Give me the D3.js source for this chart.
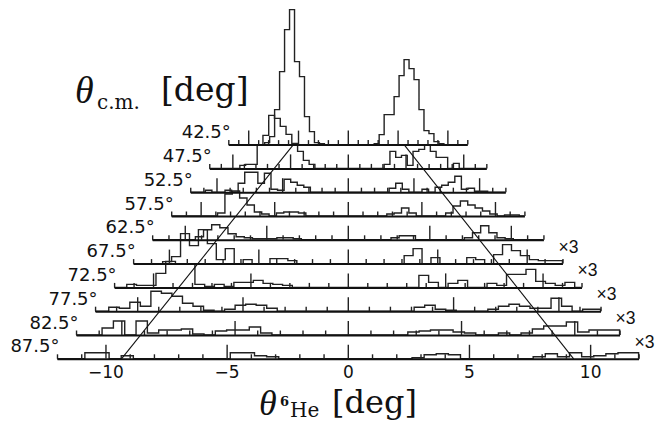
<!DOCTYPE html>
<html>
<head>
<meta charset="utf-8">
<script src="https://cdn.jsdelivr.net/npm/d3@7"></script>
<style>
  body { margin: 0; background: #fff; }
  svg { display: block; }
</style>
</head>
<body>
<svg id="viz" width="658" height="426"></svg>
<script>
// ----- data -----
// c.m. angle of each strip (top to bottom)
const angles = [42.5, 47.5, 52.5, 57.5, 62.5, 67.5, 72.5, 77.5, 82.5, 87.5];
// strips drawn with counts multiplied by 3
const scaledBy3 = [67.5, 72.5, 77.5, 82.5, 87.5];
// histogram bins: 0.5 deg wide, centres from -12.1 to 11.9
const binWidth = 0.5;
const binCenters = d3.range(49).map(j => -12.1 + binWidth * j);

// counts per bin (one array per strip)
const counts42 = [0,0,0,0,0,0,0,0, 2,8,35,73,115,135,83,68,28,13,2,1, 0,0,0,0,0,0,0,0,0,0, 1,10,30,30,48,69,85,76,65,35,14,11,3,1, 0,0,0,0,0];
const counts47 = [0,0,0,0,0,0, 3,4,4,23,33,53,50,42,34,25,17,8,4, 0,0,0,0,0,0,0,0,0,0,0,0, 4,17,11,13,3,17,19,23,17,11,11,0,5, 0,0,0,0,0];
const counts52 = [0,0,0, 2,0,0,2,0,9,20,20,9,19,3,2,13,10,7,5, 0,0,0,0,0,0,0,0,0,0,0,0, 4,9,3,0,0,3,0,5,7,10,16,3,4,1,1, 0,0,0];
const counts57 = [0,0,0,0,0,0,0, 3,22,25,18,11,4,2,0,3,4,4,3, 0,0,0,0,0,0,0,0,0,0,0, 2,3,8,3,0,0,0,0,3,10,15,11,8,5,2,0,1,1,0];
const counts62 = [0,0,0,0,0,0, 3,10,15,12,6,3,2,1,1,1,2,2,1, 0,0,0,0,0,0,0,0,0,0,0, 2,4,4, 0,0,0,0,0,0, 2,7,14,7,2,1, 0,0,0,0];
const counts67 = [0,0,0,0, 2,7,30,18,34,20,4,15,0,4,0,0,5,5,3, 0,0,0,0,0,0,0,0,0,0,0,0, 8,15,0,6,0,0,0,6,4,0,9,19,13,8,4,3,3,3];
const counts72 = [0,0, 3,2,2,14,26,23,23,3,1,3,1,5,5,7,4,3,2, 0,0,0,0,0,0,0,0,0,0,0,0, 0,12,5,0,4,7,0,0,4,2,13,13,18,6,4,2,5,0];
const counts77 = [0,0, 4,3,9,5,20,18,15,8,5,1,0,2,6,7,6,3,0, 0,0,0,0,0,0,0,0,0,0,0,0, 4,6,2,1,0,0,0,2,5,7,5,3,3,13,5,0,2,2];
const counts82 = [0,0,0, 7,14,0,14,2,5,5,6,1,0,4,5,5,8,2,0, 0,0,0,0,0,0,0,0,0,0,0, 3,4,5,5,3,2,0,0,2,0,2,6,9,9,13,3,5,5,5];
const counts87 = [0,0,0, 6,6,0,3, 0,0,0,0,0,0,0,0, 6,6,3,2, 0,0,0,0,0,0,0,0,0,0,0, 1,4,5,4, 0,0,0,0,0,0, 2,5,2,6,2,3,5,6,6];
const stripCounts = [counts42, counts47, counts52, counts57, counts62, counts67, counts72, counts77, counts82, counts87];

// kinematic loci: theta(6He) at the first and last strip
const leftLocus  = [-5.46, -9.34];
const rightLocus = [ 5.65,  9.32];

const tickValues  = d3.range(-12, 13);
const tickLabels  = [-10, -5, 0, 5, 10];

// ----- layout -----
const svg = d3.select("#viz");
const nRows = angles.length;

// strips get wider and lower as the angle grows (perspective)
const rowBase  = d3.scaleLinear().domain([0, nRows - 1]).range([144.6, 358.8]);
const rowLeft  = d3.scaleLinear().domain([0, nRows - 1]).range([228.3, 57.0]);
const rowRight = d3.scaleLinear().domain([0, nRows - 1]).range([467.3, 638.6]);
const xRow = i => d3.scaleLinear().domain([-12, 12]).range([rowLeft(i), rowRight(i)]);

// counts -> pixel height (same for every strip)
const h = d3.scaleLinear().domain([0, 135]).range([0, 135]);

const gHist = svg.append("g");
const gAxes = svg.append("g");

angles.forEach((ang, i) => {
  const x = xRow(i);
  const y0 = rowBase(i);
  const counts = stripCounts[i];

  // step outline of the histogram
  const pts = [[-12, 0]];
  binCenters.forEach((c, j) => {
    const lo = Math.max(-12, c - binWidth / 2);
    const hi = Math.min(12, c + binWidth / 2);
    pts.push([lo, counts[j]], [hi, counts[j]]);
  });
  pts.push([12, 0]);

  gHist.append("path")
    .datum(pts)
    .attr("fill", "none")
    .attr("stroke", "#222")
    .attr("stroke-width", 1.4)
    .attr("d", d3.line().x(p => x(p[0])).y(p => y0 - h(p[1])));

  // baseline with ticks pointing up
  const ax = gAxes.append("g")
    .attr("transform", `translate(0,${y0})`)
    .call(d3.axisTop(x).tickValues(tickValues).tickSize(4.5).tickSizeOuter(0).tickFormat(""));
  ax.select(".domain").attr("stroke", "#111").attr("stroke-width", 2);
  ax.selectAll(".tick line")
    .attr("stroke", "#222")
    .attr("stroke-width", 1.4)
    .attr("y2", d => d % 5 === 0 ? -14 : -4.5);

  // angle label
  svg.append("text")
    .attr("x", rowLeft(i) + 2.5)
    .attr("y", y0 - 6.5)
    .attr("text-anchor", "end")
    .attr("font-family", "DejaVu Sans")
    .attr("font-size", 18)
    .attr("fill", "#111")
    .text(`${ang}°`);

  if (scaledBy3.includes(ang)) {
    svg.append("text")
      .attr("x", rowRight(i) - 4)
      .attr("y", y0 - 11)
      .attr("font-family", "Liberation Sans")
      .attr("font-size", 17.5)
      .attr("fill", "#111")
      .text("×3");
  }
});

// kinematic lines
[leftLocus, rightLocus].forEach(loc => {
  svg.append("line")
    .attr("x1", xRow(0)(loc[0])).attr("y1", rowBase(0))
    .attr("x2", xRow(nRows - 1)(loc[1])).attr("y2", rowBase(nRows - 1))
    .attr("stroke", "#111")
    .attr("stroke-width", 1.1);
});

// numbers under the front strip
const axBottom = svg.append("g")
  .attr("transform", `translate(0,${rowBase(nRows - 1)})`)
  .call(d3.axisBottom(xRow(nRows - 1)).tickValues(tickLabels).tickSize(0).tickPadding(7.5));
axBottom.select(".domain").remove();
axBottom.selectAll("text")
  .attr("font-family", "DejaVu Sans")
  .attr("font-size", 17)
  .attr("fill", "#111");

// axis titles
const serif = "DejaVu Serif";
const tTop = svg.append("text").attr("font-family", serif).attr("fill", "#111");
tTop.append("tspan").attr("x", 75).attr("y", 103).attr("font-size", 38)
  .attr("font-family", "Liberation Serif").attr("font-style", "italic").text("θ");
tTop.append("tspan").attr("x", 97).attr("y", 109).attr("font-size", 20).text("c.m.");
tTop.append("tspan").attr("x", 161).attr("y", 101).attr("font-size", 33).text("[deg]");

const tBot = svg.append("text").attr("font-family", serif).attr("fill", "#111");
tBot.append("tspan").attr("x", 259).attr("y", 415).attr("font-size", 36)
  .attr("font-family", "Liberation Serif").attr("font-style", "italic").text("θ");
tBot.append("tspan").attr("x", 280).attr("y", 406).attr("font-size", 13).attr("font-weight", "bold").text("6");
tBot.append("tspan").attr("x", 290).attr("y", 417).attr("font-size", 20).text("He");
tBot.append("tspan").attr("x", 332).attr("y", 413).attr("font-size", 32).text("[deg]");
</script>
</body>
</html>
